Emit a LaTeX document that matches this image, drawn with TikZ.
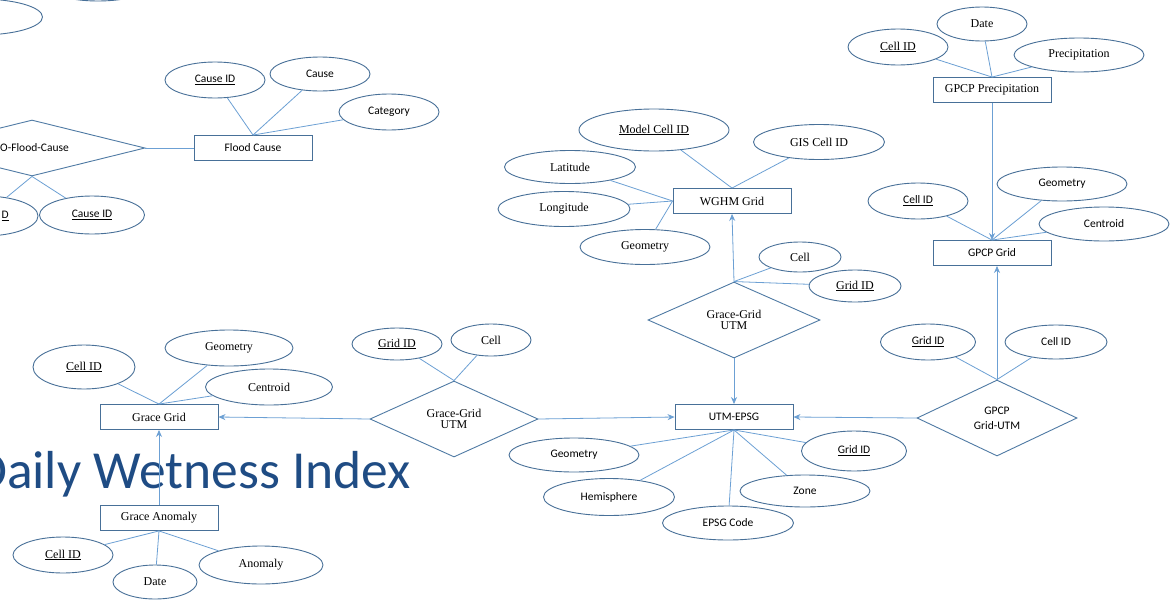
\documentclass[tikz,border=0pt]{standalone}
\usepackage{fontspec}
\setmainfont{Liberation Serif}
\newfontfamily\calib{Carlito}
\usetikzlibrary{shapes.geometric,arrows.meta}
\definecolor{shp}{RGB}{72,112,152}
\definecolor{lnk}{RGB}{108,160,212}
\definecolor{ttl}{RGB}{31,76,132}
\tikzset{
  serf/.style={font=\fontsize{12}{13}\selectfont},
  sanf/.style={font=\calib\fontsize{11.5}{13}\selectfont},
  attr/.style={ellipse,draw=shp,line width=0.9pt,inner sep=0pt,align=center},
  ent/.style={rectangle,draw=shp,line width=0.9pt,minimum width=118pt,minimum height=25pt,inner sep=0pt},
  rel/.style={diamond,draw=shp!80!lnk,line width=0.9pt,inner sep=0pt,align=center},
  lk/.style={draw=lnk,line width=0.8pt},
  ar/.style={lk,-{Stealth[length=7pt,width=6pt,fill=lnk]}}
}
\begin{document}
\begin{tikzpicture}[x=1pt,y=-1pt]
\useasboundingbox (0,0) rectangle (1170,600);
\fill[white] (0,0) rectangle (1170,600);
\clip (0,0) rectangle (1170,600);

% ---------- title ----------
\node[font=\calib\fontsize{53.5}{56}\selectfont,text=ttl,anchor=base west,inner sep=0pt] (title) at (-26,488) {Daily Wetness Index};

% ---------- cut-off ellipses at top-left ----------
\node[attr,minimum width=125pt,minimum height=36pt] (tl1) at (-20,17) {};
\node[attr,minimum width=110pt,minimum height=34pt] (tl2) at (98,-16) {};

% ---------- Flood cause group ----------
\node[ent,sanf] (fc) at (253,148) {Flood Cause};
\node[attr,sanf,minimum width=100pt,minimum height=36pt] (fcid) at (215,80) {\underline{Cause ID}};
\node[attr,sanf,minimum width=100pt,minimum height=34pt] (fcc) at (320,74) {Cause};
\node[attr,sanf,minimum width=100pt,minimum height=36pt] (fccat) at (389,112) {Category};
\node[rel,minimum width=226pt,minimum height=56pt] (gfc) at (32,148) {};
\node[sanf,anchor=west,inner sep=0pt] (gfct) at (0,148) {O-Flood-Cause};
\node[attr,sanf,minimum width=108pt,minimum height=40pt] (gfd) at (-16,216) {};
\node[sanf,anchor=east,inner sep=0pt] (gfdt) at (9,216) {\underline{D}};
\node[attr,sanf,minimum width=105pt,minimum height=38pt] (gfcid) at (92,215) {\underline{Cause ID}};

\draw[lk] (fc.north) -- (fcid);
\draw[lk] (fc.north) -- (fcc);
\draw[lk] (fc.north) -- (fccat);
\draw[lk] (gfc.east) -- (fc.west);
\draw[lk] (gfc.south) -- (gfd);
\draw[lk] (gfc.south) -- (gfcid);

% ---------- WGHM group ----------
\node[ent,serf] (wg) at (732,201) {WGHM Grid};
\node[attr,serf,minimum width=150pt,minimum height=42pt] (wmid) at (654,130) {\underline{Model Cell ID}};
\node[attr,serf,minimum width=131pt,minimum height=35pt] (wgis) at (819,142) {GIS Cell ID};
\node[attr,serf,minimum width=131pt,minimum height=33pt] (wlat) at (570,167) {Latitude};
\node[attr,serf,minimum width=132pt,minimum height=35pt] (wlon) at (564,209) {Longitude};
\node[attr,serf,minimum width=130pt,minimum height=35pt] (wgeo) at (645,247) {Geometry};
\draw[lk] (wg.west) -- (wlat);
\draw[lk] (wg.west) -- (wlon);
\draw[lk] (wg.west) -- (wgeo);
\draw[lk] (wg.north) -- (wmid);
\draw[lk] (wg.north) -- (wgis);

\node[rel,serf,minimum width=172pt,minimum height=76pt] (mrel) at (734,320) {Grace-Grid\\[-2pt]UTM};
\node[attr,serf,minimum width=82pt,minimum height=30pt] (mcell) at (800,257) {Cell};
\node[attr,serf,minimum width=92pt,minimum height=32pt] (mgid) at (855,286) {\underline{Grid ID}};
\draw[lk] (mrel.north) -- (mcell);
\draw[lk] (mrel.north) -- (mgid);
\draw[ar] (mrel.north) -- (wg.south);

% ---------- UTM-EPSG group ----------
\node[ent,sanf] (utm) at (734,417) {UTM-EPSG};
\draw[ar] (mrel.south) -- (utm.north);
\node[attr,sanf,minimum width=130pt,minimum height=34pt] (ugeo) at (574,455) {Geometry};
\node[attr,sanf,minimum width=131pt,minimum height=37pt] (uhem) at (609,497) {Hemisphere};
\node[attr,sanf,minimum width=131pt,minimum height=34pt] (uepsg) at (728,523) {EPSG Code};
\node[attr,sanf,minimum width=130pt,minimum height=32pt] (uzone) at (805,491) {Zone};
\node[attr,sanf,minimum width=105pt,minimum height=40pt] (ugid) at (854,451) {\underline{Grid ID}};
\draw[lk] (utm.south) -- (ugeo);
\draw[lk] (utm.south) -- (uhem);
\draw[lk] (utm.south) -- (uepsg);
\draw[lk] (utm.south) -- (uzone);
\draw[lk] (utm.south) -- (ugid);

% ---------- GPCP group ----------
\node[ent,serf] (gp) at (992,90) {GPCP Precipitation};
\node[attr,serf,minimum width=100pt,minimum height=36pt] (gpcid) at (898,47) {\underline{Cell ID}};
\node[attr,serf,minimum width=90pt,minimum height=34pt] (gpdate) at (982,24) {Date};
\node[attr,serf,minimum width=130pt,minimum height=34pt] (gpprec) at (1079,55) {Precipitation};
\draw[lk] (gp.north) -- (gpcid);
\draw[lk] (gp.north) -- (gpdate);
\draw[lk] (gp.north) -- (gpprec);

\node[ent,sanf] (gg) at (992,253) {GPCP Grid};
\node[attr,sanf,minimum width=100pt,minimum height=36pt] (ggcid) at (918,201) {\underline{Cell ID}};
\node[attr,sanf,minimum width=130pt,minimum height=34pt] (gggeo) at (1062,184) {Geometry};
\node[attr,sanf,minimum width=130pt,minimum height=34pt] (ggcen) at (1104,224) {Centroid};
\draw[lk] (gg.north) -- (ggcid);
\draw[lk] (gg.north) -- (gggeo);
\draw[lk] (gg.north) -- (ggcen);
\draw[ar] (gp.south) -- (gg.north);

\node[rel,sanf,minimum width=160pt,minimum height=76pt] (grel) at (997,418) {GPCP\\[2pt]Grid-UTM};
\node[attr,sanf,minimum width=95pt,minimum height=36pt] (grgid) at (928,342) {\underline{Grid ID}};
\node[attr,sanf,minimum width=102pt,minimum height=34pt] (grcid) at (1056,342) {Cell ID};
\draw[lk] (grel.north) -- (grgid);
\draw[lk] (grel.north) -- (grcid);
\draw[ar] (grel.north) -- (grel.north |- gg.south);
\draw[ar] (grel.west) -- (utm.east);

% ---------- Grace group ----------
\node[ent,serf] (grg) at (159,417) {Grace Grid};
\node[attr,serf,minimum width=102pt,minimum height=44pt] (grcid2) at (84,367) {\underline{Cell ID}};
\node[attr,serf,minimum width=128pt,minimum height=36pt] (grgeo) at (229,348) {Geometry};
\node[attr,serf,minimum width=127pt,minimum height=36pt] (grcen) at (269,387) {Centroid};
\draw[lk] (grg.north) -- (grcid2);
\draw[lk] (grg.north) -- (grgeo);
\draw[lk] (grg.north) -- (grcen);

\node[rel,serf,minimum width=168pt,minimum height=76pt] (lrel) at (454,419) {Grace-Grid\\[-2pt]UTM};
\node[attr,serf,minimum width=90pt,minimum height=32pt] (lgid) at (397,344) {\underline{Grid ID}};
\node[attr,serf,minimum width=80pt,minimum height=32pt] (lcell) at (491,340) {Cell};
\draw[lk] (lrel.north) -- (lgid);
\draw[lk] (lrel.north) -- (lcell);
\draw[ar] (lrel.west) -- (grg.east);
\draw[ar] (lrel.east) -- (utm.west);

\node[ent,serf] (gan) at (159,518) {Grace Anomaly};
\draw[ar] (gan.north) -- (grg.south);
\node[attr,serf,minimum width=100pt,minimum height=36pt] (gacid) at (63,555) {\underline{Cell ID}};
\node[attr,serf,minimum width=84pt,minimum height=34pt] (gadate) at (155,582) {Date};
\node[attr,serf,minimum width=124pt,minimum height=38pt] (gaan) at (261,565) {Anomaly};
\draw[lk] (gan.south) -- (gacid);
\draw[lk] (gan.south) -- (gadate);
\draw[lk] (gan.south) -- (gaan);
\end{tikzpicture}
\end{document}
